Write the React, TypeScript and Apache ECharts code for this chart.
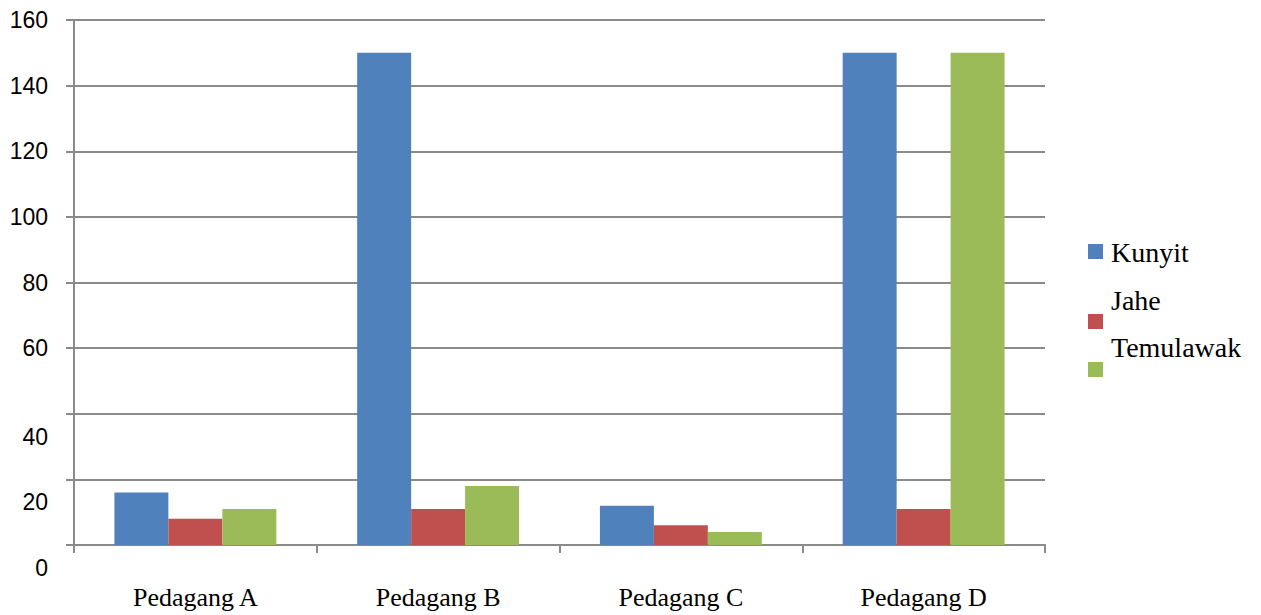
import React, { useEffect, useRef } from "react";
import * as echarts from "echarts";

const categories = ["Pedagang A", "Pedagang B", "Pedagang C", "Pedagang D"];
const kunyit = [16, 150, 12, 150];
const jahe = [8, 11, 6, 11];
const temulawak = [11, 18, 4, 150];
const seriesNames = ["Kunyit", "Jahe", "Temulawak"];
const seriesColors = ["#4F81BD", "#C0504D", "#9BBB59"];
const lowTicks = [0, 20, 40];

export default function App() {
  const ref = useRef<HTMLDivElement>(null);
  useEffect(() => {
    if (!ref.current) return;
    const chart = echarts.init(ref.current, undefined, { renderer: "svg" });
    const gray = "#8a8a8a";
    const serif = "'Liberation Serif', 'Times New Roman', serif";
    const sans = "'Liberation Sans', Arial, sans-serif";
    const markerTops = [244, 314, 362];
    const textCenters = [252, 300, 347];
    const values = [kunyit, jahe, temulawak];
    const legendGraphics: any[] = [];
    seriesNames.forEach((n, i) => {
      legendGraphics.push({
        type: "rect",
        x: 1088,
        y: markerTops[i],
        shape: { x: 0, y: 0, width: 15, height: 15 },
        style: { fill: seriesColors[i] },
      });
      legendGraphics.push({
        type: "text",
        x: 1111,
        y: textCenters[i],
        style: {
          text: n,
          fill: "#000",
          fontFamily: serif,
          fontSize: 28,
          verticalAlign: "middle",
        },
      });
    });
    chart.setOption({
      animation: false,
      backgroundColor: "#ffffff",
      grid: { left: 74, right: 216, top: 20, bottom: 70, containLabel: false },
      legend: { show: false, data: seriesNames },
      graphic: { elements: legendGraphics },
      xAxis: {
        type: "category",
        data: categories,
        axisLine: { show: true, lineStyle: { color: gray, width: 2 } },
        axisTick: { show: true, length: 8, lineStyle: { color: gray, width: 2 } },
        axisLabel: { fontFamily: serif, fontSize: 26, color: "#000", margin: 39 },
        splitLine: { show: false },
      },
      yAxis: {
        type: "value",
        min: 0,
        max: 160,
        interval: 20,
        axisLine: { show: true, lineStyle: { color: gray, width: 2 } },
        axisTick: { show: true, length: 8, lineStyle: { color: gray, width: 2 } },
        splitLine: { show: true, lineStyle: { color: gray, width: 2 } },
        axisLabel: {
          margin: 26,
          fontFamily: sans,
          fontSize: 23,
          color: "#000",
          formatter: (v: number) => (lowTicks.includes(v) ? `{low|${v}}` : `{n|${v}}`),
          rich: {
            low: { fontFamily: sans, fontSize: 23, color: "#000", padding: [46, 0, 0, 0] },
            n: { fontFamily: sans, fontSize: 23, color: "#000" },
          },
        },
      },
      series: seriesNames.map((n, i) => ({
        name: n,
        type: "bar",
        data: values[i],
        barGap: "0%",
        barCategoryGap: "33.3%",
        itemStyle: { color: seriesColors[i] },
      })),
    });
    return () => chart.dispose();
  }, []);
  return (
    <div
      ref={ref}
      style={{ position: "fixed", left: 0, top: 0, width: 1261, height: 615, background: "#fff" }}
    />
  );
}
